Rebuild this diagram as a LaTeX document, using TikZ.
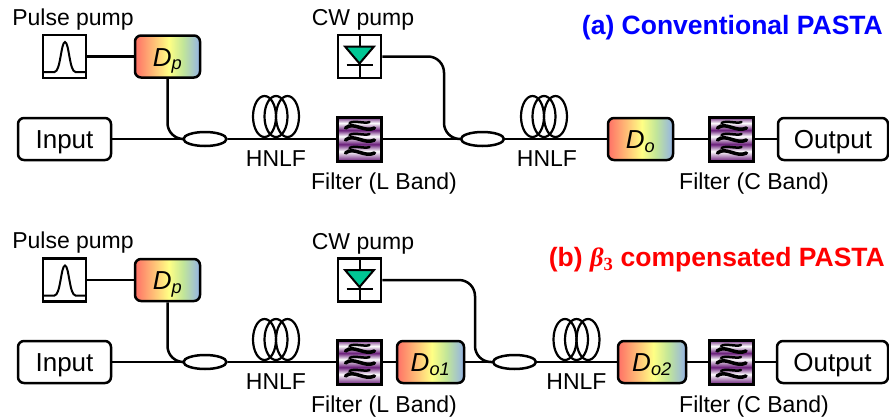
\documentclass[tikz,border=0pt]{standalone}
\usepackage{fontspec}
\setmainfont{Liberation Sans}
\newfontfamily\greekfont{Liberation Serif}
\usetikzlibrary{calc,shapes.geometric}
\definecolor{RayRed}{rgb}{1,0.44,0.40}
\definecolor{RayYellow}{rgb}{1,1,0.52}
\definecolor{RayGreen}{rgb}{0.76,0.90,0.60}
\definecolor{RayBlue}{rgb}{0.58,0.70,0.90}
\definecolor{FiltPurple}{rgb}{0.42,0.12,0.48}
\definecolor{DiodeGreen}{rgb}{0,0.78,0.58}
\pgfdeclarehorizontalshading{rainbow}{100bp}{color(0bp)=(RayRed);color(25bp)=(RayRed);color(51bp)=(RayYellow);color(62bp)=(RayGreen);color(75bp)=(RayBlue);color(100bp)=(RayBlue)}
\pgfdeclareverticalshading{bands}{100bp}{color(0bp)=(FiltPurple);color(25bp)=(FiltPurple);color(36bp)=(white);color(44bp)=(FiltPurple);color(53bp)=(white);color(60bp)=(FiltPurple);color(68bp)=(white);color(75bp)=(FiltPurple);color(100bp)=(FiltPurple)}
\tikzset{
  wire/.style={line width=2.5pt},
  label/.style={font=\fontsize{23}{23}\selectfont,inner sep=0pt,text height=16.5pt,text depth=0pt},
  endbox/.style={draw,line width=2.5pt,rounded corners=6pt,minimum height=42pt,font=\fontsize{26}{26}\selectfont,inner sep=0pt,text height=18.5pt,text depth=0pt},
  dispbox/.style={draw,line width=2.5pt,rounded corners=6pt,minimum height=42pt,shading=rainbow,font=\fontsize{26}{26}\selectfont\itshape,inner sep=0pt,text height=19pt,text depth=0pt},
  squarebox/.style={draw,line width=2.5pt,minimum width=43pt,minimum height=43pt,inner sep=0pt},
  pulsebox/.style={squarebox,path picture={
    \draw[line width=2pt] ($(path picture bounding box.center)+(-22,15.5)$) -- ++(12,0)
      .. controls +(6,0) and +(-4,0) .. ++(10.5,-30) .. controls +(4,0) and +(-6,0) .. ++(10.5,30) -- ++(12,0);}},
  diodebox/.style={squarebox,path picture={
    \coordinate (c) at (path picture bounding box.center);
    \draw[line width=2pt] ($(c)+(0,-22)$) -- ++(0,44);
    \draw[line width=2pt,fill=DiodeGreen] ($(c)+(-14.5,-10)$) -- ++(29,0) -- ++(-14.5,17) -- cycle;
    \draw[line width=2pt] ($(c)+(-13,8.5)$) -- ++(26,0);}},
  filterbox/.style={draw,line width=3pt,minimum width=44pt,minimum height=44pt,inner sep=0pt,shading=bands,path picture={
    \foreach \dy in {-12,0,13}{
      \draw[line width=3.5pt,line cap=round] ($(path picture bounding box.center)+(-14,\dy+1)$)
        .. controls +(8,-7) and +(-10,5) .. ++(29,0);
      \draw[line width=2.5pt,line cap=round] ($(path picture bounding box.center)+(-10,\dy-4)$)
        .. controls +(5,-3) and +(-5,2) .. ++(20,-1);}}},
  coilbox/.style={minimum width=52pt,minimum height=47pt,inner sep=0pt,path picture={
    \foreach \dx in {-11.5,0,11.5}{
      \draw[line width=2.2pt] ($(path picture bounding box.center)+(\dx,0)$) ellipse (11.5pt and 20.5pt);}}},
  splitter/.style={draw,ellipse,fill=white,line width=2.5pt,minimum width=43pt,minimum height=14pt,inner sep=0pt},
  heading/.style={font=\fontsize{26.5}{26.5}\selectfont\bfseries,inner sep=0pt,anchor=east,text height=18.7pt,text depth=0pt}
}
\newcommand{\dsub}[1]{D\textsubscript{#1}}

\begin{document}
\begin{tikzpicture}[x=1pt,y=-1pt]
\useasboundingbox (0,0) rectangle (889,418);

\node[label] (pulseLblA) at (73,17.5) {Pulse pump};
\node[pulsebox] (pulseA) at (64.5,56.5) {};
\node[dispbox,minimum width=65pt] (dpA) at (167.5,56.5) {\dsub{p}};
\node[endbox,minimum width=93pt] (inA) at (64.5,139) {Input};
\node[splitter] (coupA) at (205,139) {};
\node[coilbox] (coilA) at (276,116.5) {};
\node[label] (hnlfA) at (276,158) {HNLF};
\node[filterbox] (filtA) at (359.5,139) {};
\node[label] (filtLblA) at (384,181) {Filter (L Band)};
\node[label] (cwLblA) at (363,17.5) {CW pump};
\node[diodebox] (cwA) at (359.5,56.5) {};
\coordinate (bendA) at (444,100);
\node[splitter] (coupB) at (482.5,139) {};
\node[coilbox] (coilB) at (544,116.5) {};
\node[label] (hnlfB) at (547,158) {HNLF};
\node[dispbox,minimum width=65pt] (doA) at (640.5,139) {\dsub{o}};
\node[filterbox] (filtB) at (731.5,139) {};
\node[label] (filtLblB) at (754,181) {Filter (C Band)};
\node[endbox,minimum width=110pt] (outA) at (833,139) {Output};
\node[heading,text=blue] (headA) at (883,25) {(a) Conventional PASTA};

\draw[wire] (pulseA) -- (dpA);
\draw[wire] (inA) -- (coupA);
\draw[wire,rounded corners=16pt] (dpA.south) |- (coupA.west);
\draw[wire] (coupA) -- (filtA);
\draw[wire] (filtA) -- (coupB);
\draw[wire,rounded corners=16pt] (cwA.east) -| (bendA) |- (coupB.west);
\draw[wire] (coupB) -- (doA);
\draw[wire] (doA) -- (filtB);
\draw[wire] (filtB) -- (outA);

\node[label] (pulseLblC) at (73,240.5) {Pulse pump};
\node[pulsebox] (pulseC) at (64.5,280) {};
\node[dispbox,minimum width=65pt] (dpC) at (167.5,280) {\dsub{p}};
\node[endbox,minimum width=93pt] (inC) at (64.5,362) {Input};
\node[splitter] (coupC) at (205,362) {};
\node[coilbox] (coilC) at (276,339.5) {};
\node[label] (hnlfC) at (276,381) {HNLF};
\node[filterbox] (filtC) at (359.5,362) {};
\node[dispbox,minimum width=67pt] (doC) at (430.5,362) {\dsub{o1}};
\node[label] (filtLblC) at (384,404) {Filter (L Band)};
\node[label] (cwLblC) at (363,241) {CW pump};
\node[diodebox] (cwC) at (359.5,280) {};
\coordinate (bendC) at (475,320);
\node[splitter] (coupD) at (514.5,362) {};
\node[coilbox] (coilD) at (576.5,339.5) {};
\node[label] (hnlfD) at (576.5,381) {HNLF};
\node[dispbox,minimum width=68pt] (doD) at (652,362) {\dsub{o2}};
\node[filterbox] (filtD) at (731,362) {};
\node[label] (filtLblD) at (754,404) {Filter (C Band)};
\node[endbox,minimum width=111pt] (outC) at (832.5,362) {Output};
\node[heading,text=red] (headC) at (885,257) {(b) {\greekfont\textit{β}\textsubscript{3}} compensated PASTA};

\draw[wire] (pulseC) -- (dpC);
\draw[wire] (inC) -- (coupC);
\draw[wire,rounded corners=16pt] (dpC.south) |- (coupC.west);
\draw[wire] (coupC) -- (filtC);
\draw[wire] (filtC) -- (doC);
\draw[wire] (doC) -- (coupD);
\draw[wire,rounded corners=16pt] (cwC.east) -| (bendC) |- (coupD.west);
\draw[wire] (coupD) -- (doD);
\draw[wire] (doD) -- (filtD);
\draw[wire] (filtD) -- (outC);

\end{tikzpicture}
\end{document}
